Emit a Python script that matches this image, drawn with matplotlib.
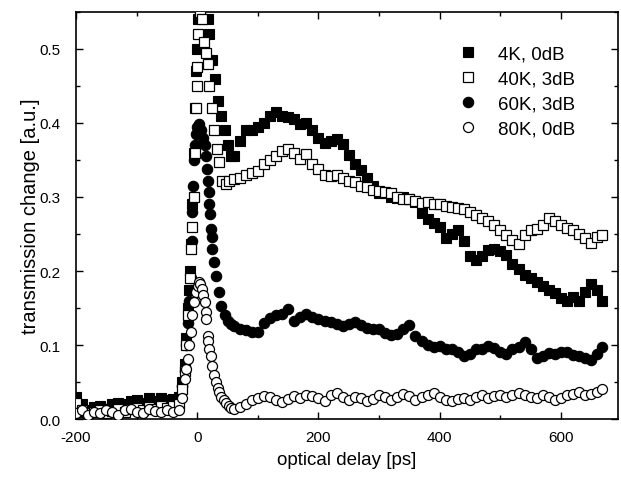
import numpy as np
import matplotlib
matplotlib.use("Agg")
import matplotlib.pyplot as plt
from matplotlib.ticker import MultipleLocator

plt.rcParams['font.family'] = ['Liberation Sans', 'DejaVu Sans']
plt.rcParams['axes.unicode_minus'] = False

# delay grids [ps]
delay_pre = [-200, -190, -180, -170, -160, -150, -140, -130, -120, -110,
             -100, -90, -80, -70, -60, -50, -40]
delay_tail = [60, 70, 80, 90, 100, 110, 120, 130, 140, 150, 160, 170, 180, 190,
              200, 210, 220, 230, 240, 250, 260, 270, 280, 290, 300, 310, 320,
              330, 340, 350, 360, 370, 380, 390, 400, 410, 420, 430, 440, 450,
              460, 470, 480, 490, 500, 510, 520, 530, 540, 550, 560, 570, 580,
              590, 600, 610, 620, 630, 640, 650, 660, 667]

# 4K, 0dB
k4_pre = [0.03, 0.02, 0.012, 0.016, 0.018, 0.013, 0.02, 0.022, 0.02, 0.025,
          0.026, 0.022, 0.028, 0.025, 0.028, 0.026, 0.027]
k4_peak_t = [-30, -25, -21, -18, -16, -14, -12, -10, -8, -6, -4, -2, 0, 2, 5,
             8, 11, 14, 17, 20, 25, 30, 35, 40, 45, 50, 55]
k4_peak = [0.03, 0.05, 0.075, 0.11, 0.15, 0.175, 0.2, 0.236, 0.29, 0.36, 0.42,
           0.47, 0.5, 0.54, 0.58, 0.6, 0.6, 0.57, 0.54, 0.52, 0.485, 0.46, 0.43,
           0.41, 0.39, 0.37, 0.355]
k4_tail = [0.355, 0.375, 0.39, 0.39, 0.395, 0.40, 0.41, 0.415, 0.41, 0.408,
           0.405, 0.398, 0.40, 0.39, 0.38, 0.373, 0.375, 0.378, 0.372, 0.357,
           0.345, 0.337, 0.325, 0.315, 0.305, 0.305, 0.30, 0.298, 0.30, 0.297,
           0.293, 0.278, 0.27, 0.265, 0.26, 0.245, 0.25, 0.255, 0.24, 0.22,
           0.215, 0.22, 0.228, 0.23, 0.227, 0.222, 0.21, 0.203, 0.195, 0.19,
           0.185, 0.18, 0.175, 0.17, 0.163, 0.16, 0.165, 0.16, 0.172, 0.182,
           0.175, 0.16]

# 40K, 3dB
k40_pre = [0.022, 0.012, 0.008, 0.01, 0.012, 0.008, 0.011, 0.014, 0.01, 0.013,
           0.015, 0.012, 0.016, 0.014, 0.017, 0.015, 0.018]
k40_peak_t = [-30, -25, -21, -18, -15, -12, -10, -8, -6, -4, -2, -1, 0, 2, 4,
              6, 8, 11, 14, 17, 20, 24, 28, 33, 36, 41, 47, 53]
k40_peak = [0.02, 0.04, 0.065, 0.1, 0.14, 0.19, 0.23, 0.26, 0.3, 0.36, 0.42,
            0.45, 0.475, 0.52, 0.55, 0.56, 0.54, 0.51, 0.495, 0.48, 0.45, 0.42,
            0.39, 0.365, 0.347, 0.322, 0.318, 0.322]
k40_tail = [0.324, 0.325, 0.33, 0.333, 0.335, 0.345, 0.35, 0.355, 0.362, 0.365,
            0.36, 0.352, 0.358, 0.345, 0.338, 0.33, 0.328, 0.33, 0.325, 0.322,
            0.32, 0.315, 0.313, 0.31, 0.308, 0.307, 0.305, 0.30, 0.297, 0.297,
            0.295, 0.292, 0.293, 0.29, 0.29, 0.288, 0.286, 0.285, 0.284, 0.28,
            0.276, 0.272, 0.268, 0.262, 0.255, 0.248, 0.242, 0.236, 0.248, 0.255,
            0.257, 0.262, 0.272, 0.268, 0.262, 0.258, 0.255, 0.25, 0.244, 0.238,
            0.246, 0.248]

# 60K, 3dB
k60_pre = [0.015, 0.01, 0.008, 0.012, 0.01, 0.014, 0.012, 0.016, 0.013, 0.015,
           0.018, 0.014, 0.017, 0.015, 0.018, 0.017, 0.02]
k60_peak_t = [-30, -25, -21, -18, -15, -13, -11, -9, -8, -7, -6, -4, -2, 0, 3,
              6, 9, 12, 14, 16, 17, 19, 20, 21, 23, 24, 25, 28, 31, 36, 40, 45,
              50, 55]
k60_peak = [0.025, 0.045, 0.065, 0.1, 0.13, 0.16, 0.19, 0.24, 0.28, 0.315, 0.35,
            0.37, 0.385, 0.395, 0.398, 0.39, 0.38, 0.37, 0.355, 0.338, 0.322,
            0.307, 0.29, 0.277, 0.257, 0.246, 0.23, 0.212, 0.193, 0.172, 0.153,
            0.14, 0.132, 0.128]
k60_tail = [0.126, 0.122, 0.12, 0.118, 0.118, 0.13, 0.137, 0.14, 0.142, 0.148,
            0.133, 0.138, 0.142, 0.138, 0.135, 0.133, 0.131, 0.128, 0.126, 0.128,
            0.131, 0.127, 0.123, 0.122, 0.121, 0.116, 0.114, 0.115, 0.122, 0.127,
            0.112, 0.105, 0.1, 0.097, 0.098, 0.094, 0.095, 0.09, 0.085, 0.088,
            0.094, 0.095, 0.098, 0.096, 0.09, 0.088, 0.094, 0.097, 0.104, 0.095,
            0.082, 0.085, 0.089, 0.088, 0.09, 0.091, 0.087, 0.085, 0.083, 0.08,
            0.088, 0.097]

# 80K, 0dB
k80_pre = [0.008, 0.012, 0.006, 0.01, 0.008, 0.012, 0.01, 0.006, 0.012, 0.014,
           0.01, 0.008, 0.013, 0.011, 0.009, 0.012, 0.01]
k80_peak_t = [-30, -25, -21, -18, -16, -13, -10, -8, -5, -2, 1, 3, 5, 8, 10, 12,
              14, 15, 17, 18, 20, 22, 25, 28, 31, 34, 36, 40, 44, 48, 52, 56]
k80_peak = [0.012, 0.028, 0.054, 0.068, 0.081, 0.1, 0.117, 0.14, 0.158, 0.171,
            0.18, 0.185, 0.183, 0.176, 0.168, 0.158, 0.145, 0.135, 0.112, 0.105,
            0.095, 0.085, 0.072, 0.06, 0.05, 0.042, 0.036, 0.03, 0.026, 0.022,
            0.018, 0.015]
k80_tail = [0.014, 0.016, 0.02, 0.026, 0.028, 0.031, 0.03, 0.026, 0.023, 0.027,
            0.031, 0.029, 0.032, 0.031, 0.028, 0.025, 0.033, 0.035, 0.03, 0.026,
            0.03, 0.028, 0.024, 0.027, 0.032, 0.03, 0.026, 0.03, 0.034, 0.031,
            0.026, 0.03, 0.033, 0.035, 0.03, 0.026, 0.024, 0.027, 0.028, 0.026,
            0.03, 0.032, 0.029, 0.031, 0.033, 0.03, 0.032, 0.035, 0.033, 0.03,
            0.028, 0.032, 0.03, 0.026, 0.028, 0.032, 0.034, 0.036, 0.033, 0.034,
            0.036, 0.04]

labels = ["4K, 0dB", "40K, 3dB", "60K, 3dB", "80K, 0dB"]


def join(peak_t, pre, peak, tail):
    x = np.concatenate([delay_pre, peak_t, delay_tail])
    y = np.concatenate([pre, peak, tail])
    return x, y


fig = plt.figure(figsize=(6.21, 4.81), dpi=100)
ax = fig.add_axes([0.1224, 0.1268, 0.8727, 0.8462])

x4, y4 = join(k4_peak_t, k4_pre, k4_peak, k4_tail)
x40, y40 = join(k40_peak_t, k40_pre, k40_peak, k40_tail)
x60, y60 = join(k60_peak_t, k60_pre, k60_peak, k60_tail)
x80, y80 = join(k80_peak_t, k80_pre, k80_peak, k80_tail)

h4, = ax.plot(x4, y4, ls='none', marker='s', ms=7, mfc='black', mec='black',
              mew=0.8, zorder=2)
h60, = ax.plot(x60, y60, ls='none', marker='o', ms=7.5, mfc='black', mec='black',
               mew=0.8, zorder=3)
h40, = ax.plot(x40, y40, ls='none', marker='s', ms=6.8, mfc='white', mec='black',
               mew=0.9, zorder=4)
h80, = ax.plot(x80, y80, ls='none', marker='o', ms=7.2, mfc='white', mec='black',
               mew=0.9, zorder=5)

ax.set_xlim(-200, 694)
ax.set_ylim(0, 0.55)
ax.xaxis.set_major_locator(MultipleLocator(200))
ax.xaxis.set_minor_locator(MultipleLocator(100))
ax.yaxis.set_major_locator(MultipleLocator(0.1))
ax.yaxis.set_minor_locator(MultipleLocator(0.05))
ax.tick_params(which='both', direction='in', top=True, right=True,
               labelsize=11, width=1)
ax.tick_params(which='major', length=5)
ax.tick_params(which='minor', length=3)
ax.tick_params(axis='x', pad=8)
ax.tick_params(axis='y', pad=11)
for s in ax.spines.values():
    s.set_linewidth(1.2)

ax.set_xlabel("optical delay [ps]", fontsize=13.5, labelpad=5)
ax.set_ylabel("transmission change [a.u.]", fontsize=14.5, labelpad=0)

leg = ax.legend([h4, h40, h60, h80], labels, loc='upper left',
                bbox_to_anchor=(0.672, 0.96), frameon=False, fontsize=13.5,
                handlelength=1.2, handletextpad=1.0, labelspacing=0.42,
                markerscale=1.0)

fig.savefig("out.png", dpi=100)
